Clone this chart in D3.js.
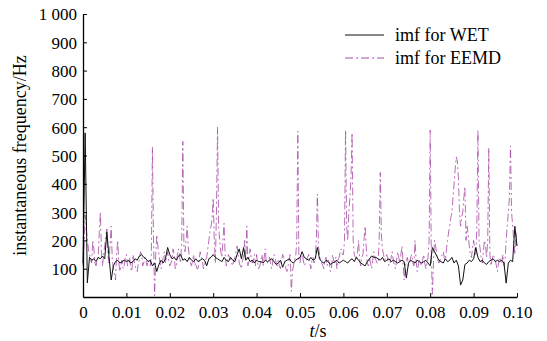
<!DOCTYPE html>
<html>
<head>
<meta charset="utf-8">
<script src="https://cdn.jsdelivr.net/npm/d3@7/dist/d3.min.js"></script>
<style>
  html, body { margin: 0; padding: 0; background: #fff; }
  svg text { font-family: "Liberation Serif", "Times New Roman", Times, serif; }
</style>
</head>
<body>
<svg id="chart" width="547" height="341"></svg>
<script>
const FONT = "'Liberation Serif', 'Times New Roman', Times, serif";

// sampling steps of the two instantaneous-frequency series (s)
const wetStep = 0.0005;
const eemdStep = 0.00025;

// instantaneous frequency of the WET imf (Hz)
const wetValues = [
  120,580,50,140,130,135,125,140,135,145,135,230,140,60,110,125,130,120,125,130,125,
  130,120,125,135,130,145,150,140,135,125,130,110,120,90,115,130,120,135,175,150,
  135,140,130,145,150,130,135,125,140,130,125,135,125,130,135,130,110,135,140,150,
  140,135,130,125,140,130,125,140,130,125,150,170,135,175,130,140,125,130,120,130,
  125,125,120,130,125,130,135,125,115,120,130,105,125,130,135,125,120,130,135,140,
  160,140,135,130,140,130,135,175,135,125,120,130,125,115,120,125,130,120,125,130,
  125,120,130,135,125,140,130,120,115,110,125,135,145,140,140,135,130,140,125,130,
  135,125,130,125,120,125,130,125,67,120,130,125,120,130,125,120,125,130,120,110,
  175,160,145,130,125,120,135,125,130,140,120,130,110,42,60,115,120,130,125,135,
  175,140,125,130,120,115,125,130,135,125,130,125,130,120,49,120,130,125,250,180
];

// instantaneous frequency of the EEMD imf (Hz)
const eemdValues = [
  110,180,290,240,200,170,150,130,120,200,170,120,110,130,140,230,300,160,110,150,
  180,210,240,150,120,190,250,130,100,80,60,150,200,120,90,110,130,100,110,140,
  150,110,120,140,100,90,150,130,110,100,90,120,130,160,150,110,120,140,130,110,
  130,120,110,150,530,200,5,150,220,180,150,120,100,120,140,160,120,140,160,130,
  110,120,130,170,150,100,110,150,170,140,120,200,550,180,160,200,250,180,140,120,
  110,130,150,110,120,100,100,130,160,140,130,100,110,130,140,170,200,230,250,280,
  350,200,120,300,600,250,200,160,140,200,260,150,110,130,150,140,130,120,110,130,
  140,160,180,150,120,110,100,130,140,200,130,250,110,140,170,140,120,130,150,110,
  150,120,100,110,130,150,110,140,170,120,120,130,140,110,100,130,150,140,120,110,
  130,110,100,130,150,140,120,100,90,110,130,150,20,90,110,130,140,200,586,130,
  120,150,160,130,110,120,130,140,150,120,100,130,140,120,130,200,364,180,150,130,
  120,110,100,130,140,110,130,120,90,100,150,130,120,140,100,130,140,160,170,150,
  150,200,590,250,200,300,350,420,580,200,150,140,130,160,200,130,110,140,150,200,
  250,180,120,110,140,120,100,130,160,140,130,120,120,200,440,220,170,150,130,140,
  150,130,110,120,140,160,130,110,100,130,160,140,120,150,180,120,60,100,130,140,
  110,120,140,150,120,110,200,130,90,110,130,120,110,130,150,120,100,120,140,200,
  590,150,10,120,200,180,150,130,120,130,140,150,160,140,130,170,200,230,250,280,
  300,350,400,450,495,480,420,300,250,280,300,350,390,200,250,220,180,150,140,170,
  200,170,150,250,590,200,170,140,120,160,200,180,140,200,527,150,110,130,150,140,
  130,110,90,120,140,130,120,150,110,130,200,250,300,350,534,300,250,200,150,230,
  170
];

// axis ticks
const xTicks = [0, 0.01, 0.02, 0.03, 0.04, 0.05, 0.06, 0.07, 0.08, 0.09, 0.10];
const xTickLabels = ["0", "0.01", "0.02", "0.03", "0.04", "0.05", "0.06", "0.07", "0.08", "0.09", "0.10"];
const yTicks = [100, 200, 300, 400, 500, 600, 700, 800, 900, 1000];
const yTickLabels = ["100", "200", "300", "400", "500", "600", "700", "800", "900", "1 000"];

// series names
const seriesNames = ["imf for WET", "imf for EEMD"];

const WET_COLOR = "#111";
const EEMD_COLOR = "#a64aa6";
const DASH = "8,3,2,3";

const svg = d3.select("#chart");
const margin = { left: 83, right: 30, top: 14, bottom: 44 };
const W = 547, H = 341;

const x = d3.scaleLinear().domain([0, 0.10]).range([margin.left, W - margin.right]);
const y = d3.scaleLinear().domain([0, 1000]).range([H - margin.bottom, margin.top]);

const toPoints = (vals, step) => vals.map((v, i) => [i * step, v]);
const line = d3.line().x(d => x(d[0])).y(d => y(d[1]));

const plot = svg.append("g");

// EEMD (dash-dot, purple)
plot.append("path")
  .datum(toPoints(eemdValues, eemdStep))
  .attr("d", line)
  .attr("fill", "none")
  .attr("stroke", EEMD_COLOR)
  .attr("stroke-opacity", 0.8)
  .attr("stroke-width", 1)
  .attr("stroke-dasharray", DASH);

// WET (solid, black)
plot.append("path")
  .datum(toPoints(wetValues, wetStep))
  .attr("d", line)
  .attr("fill", "none")
  .attr("stroke", WET_COLOR)
  .attr("stroke-width", 1);

// axes
const xAxis = d3.axisBottom(x)
  .tickValues(xTicks)
  .tickFormat((d, i) => xTickLabels[i])
  .tickSizeInner(-4).tickSizeOuter(0).tickPadding(9);
const yAxis = d3.axisLeft(y)
  .tickValues(yTicks)
  .tickFormat((d, i) => yTickLabels[i])
  .tickSizeInner(-4).tickSizeOuter(0).tickPadding(6);

const gx = svg.append("g").attr("transform", `translate(0,${H - margin.bottom})`).call(xAxis);
const gy = svg.append("g").attr("transform", `translate(${margin.left},0)`).call(yAxis);

[gx, gy].forEach(g => {
  g.attr("font-family", FONT).attr("font-size", 17);
  g.selectAll(".domain").attr("stroke", "#000").attr("stroke-width", 1.3);
  g.selectAll(".tick line").attr("stroke", "#000").attr("stroke-width", 1);
  g.selectAll(".tick text").attr("fill", "#000");
});
gx.selectAll(".tick text").attr("dy", "0.71em");
gy.selectAll(".tick text").attr("dy", "0.35em");

// axis titles
svg.append("text")
  .attr("transform", `translate(26,${(margin.top + H - margin.bottom) / 2}) rotate(-90)`)
  .attr("text-anchor", "middle")
  .attr("font-family", FONT)
  .attr("font-size", 18)
  .text("instantaneous frequency/Hz");

const xt = svg.append("text")
  .attr("x", (margin.left + W - margin.right) / 2 + 18)
  .attr("y", 337)
  .attr("text-anchor", "middle")
  .attr("font-family", FONT)
  .attr("font-size", 18);
xt.append("tspan").attr("font-style", "italic").text("t");
xt.append("tspan").text("/s");

// legend
const legend = svg.append("g").attr("font-family", FONT).attr("font-size", 18);
const legendY = [35, 58];
legend.append("line").attr("x1", 345).attr("x2", 384).attr("y1", legendY[0]).attr("y2", legendY[0])
  .attr("stroke", WET_COLOR).attr("stroke-width", 1);
legend.append("line").attr("x1", 345).attr("x2", 384).attr("y1", legendY[1]).attr("y2", legendY[1])
  .attr("stroke", EEMD_COLOR).attr("stroke-width", 1).attr("stroke-dasharray", DASH);
seriesNames.forEach((name, i) => {
  legend.append("text")
    .attr("x", 395).attr("y", legendY[i] + 6)
    .text(name);
});
</script>
</body>
</html>
